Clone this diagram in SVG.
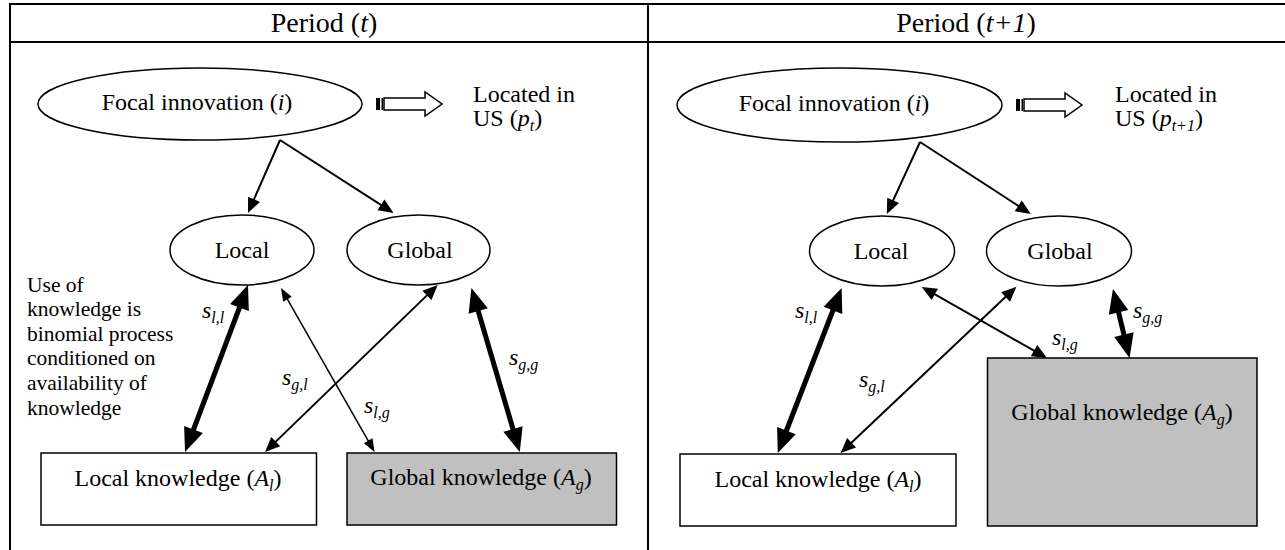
<svg xmlns="http://www.w3.org/2000/svg" width="1285" height="550" viewBox="0 0 1285 550">
<style>
text{font-family:"Liberation Serif","Times New Roman",serif;fill:#000}
.hd{font-size:28px;text-anchor:middle}
.lb{font-size:24px}
.mid{text-anchor:middle}
.note{font-size:21.5px}
.it{font-style:italic}
.grid{stroke:#000;stroke-width:2;fill:none}
.node{stroke:#000;stroke-width:1.5;fill:#fff}
.gray{fill:#c0c0c0}
.thick{stroke:#000;stroke-width:5;fill:none;marker-start:url(#hT);marker-end:url(#hT)}
.med{stroke:#000;stroke-width:2;fill:none}
.thin{stroke:#000;stroke-width:1.5;fill:none;marker-start:url(#hS);marker-end:url(#hS)}
.dbl{marker-start:url(#hM);marker-end:url(#hM)}
.one{marker-end:url(#hM)}
</style>
<defs>
<marker id="hT" markerUnits="userSpaceOnUse" markerWidth="26" markerHeight="22" viewBox="0 -11 24 22" refX="17" refY="0" orient="auto-start-reverse"><path d="M0,-10 L24,0 L0,10 z" fill="#000"/></marker>
<marker id="hM" markerUnits="userSpaceOnUse" markerWidth="16" markerHeight="14" viewBox="0 -7 15 14" refX="11.5" refY="0" orient="auto-start-reverse"><path d="M0,-6.5 L15,0 L0,6.5 z" fill="#000"/></marker>
<marker id="hS" markerUnits="userSpaceOnUse" markerWidth="14" markerHeight="12" viewBox="0 -6 13 12" refX="10" refY="0" orient="auto-start-reverse"><path d="M0,-5 L13,0 L0,5 z" fill="#000"/></marker>
<g id="hollowArrow">
<rect x="0" y="0" width="4" height="12" fill="#000"/>
<rect x="5.5" y="0" width="1.5" height="12" fill="#000"/>
<path d="M8,0 L49,0 L49,-6 L66,6 L49,18 L49,12 L8,12 z" fill="#fff" stroke="#000" stroke-width="1.5" stroke-linejoin="miter"/>
</g>
</defs>

<g id="table">
<line class="grid" x1="9" y1="4" x2="1285" y2="4"/>
<line class="grid" x1="9" y1="42" x2="1285" y2="42"/>
<line class="grid" x1="10" y1="3" x2="10" y2="550"/>
<line class="grid" x1="648" y1="3" x2="648" y2="550"/>
<text class="hd" x="324" y="32">Period (<tspan class="it">t</tspan>)</text>
<text class="hd" x="966" y="32">Period (<tspan class="it">t+1</tspan>)</text>
</g>

<!-- Left panel -->
<g id="focal-t">
<ellipse class="node" cx="200" cy="104" rx="162" ry="36"/>
<text class="lb mid" x="197" y="110">Focal innovation (<tspan class="it">i</tspan>)</text>
</g>
<g id="move-t">
<use href="#hollowArrow" x="376" y="98"/>
</g>
<g id="located-t">
<text class="lb" x="473" y="102">Located in</text>
<text class="lb" x="473" y="126">US (<tspan class="it">p</tspan><tspan class="it" font-size="16" dy="5">t</tspan><tspan dy="-5">)</tspan></text>
</g>
<g id="local-t">
<ellipse class="node" cx="242" cy="250" rx="72" ry="35"/>
<text class="lb mid" x="242" y="258">Local</text>
</g>
<g id="global-t">
<ellipse class="node" cx="418.5" cy="250" rx="71.5" ry="35"/>
<text class="lb mid" x="420" y="258">Global</text>
</g>
<g id="note-t">
<text class="note" x="27" y="292">Use of</text>
<text class="note" x="27" y="316">knowledge is</text>
<text class="note" x="27" y="341">binomial process</text>
<text class="note" x="27" y="365">conditioned on</text>
<text class="note" x="27" y="390">availability of</text>
<text class="note" x="27" y="415">knowledge</text>
</g>
<g id="localK-t">
<rect class="node" x="41" y="453" width="275.5" height="72"/>
<text class="lb mid" x="178" y="486">Local knowledge (<tspan class="it">A</tspan><tspan class="it" font-size="16" dy="5">l</tspan><tspan dy="-5">)</tspan></text>
</g>
<g id="globalK-t">
<rect class="node gray" x="347" y="453" width="269.5" height="72"/>
<text class="lb mid" x="481" y="485">Global knowledge (<tspan class="it">A</tspan><tspan class="it" font-size="16" dy="5">g</tspan><tspan dy="-5">)</tspan></text>
</g>

<!-- Right panel -->
<g id="focal-t1">
<ellipse class="node" cx="839.5" cy="105" rx="162.5" ry="37"/>
<text class="lb mid" x="834" y="111">Focal innovation (<tspan class="it">i</tspan>)</text>
</g>
<g id="move-t1">
<use href="#hollowArrow" x="1016" y="99"/>
</g>
<g id="located-t1">
<text class="lb" x="1115" y="102">Located in</text>
<text class="lb" x="1115" y="126">US (<tspan class="it">p</tspan><tspan class="it" font-size="16" dy="5">t+1</tspan><tspan dy="-5">)</tspan></text>
</g>
<g id="local-t1">
<ellipse class="node" cx="882" cy="251" rx="72.5" ry="35"/>
<text class="lb mid" x="881" y="259">Local</text>
</g>
<g id="global-t1">
<ellipse class="node" cx="1059" cy="251" rx="72.5" ry="35"/>
<text class="lb mid" x="1060" y="259">Global</text>
</g>
<g id="localK-t1">
<rect class="node" x="680" y="454" width="276" height="72"/>
<text class="lb mid" x="818" y="487">Local knowledge (<tspan class="it">A</tspan><tspan class="it" font-size="16" dy="5">l</tspan><tspan dy="-5">)</tspan></text>
</g>
<g id="globalK-t1">
<rect class="node gray" x="987.5" y="358" width="269.5" height="168"/>
<text class="lb mid" x="1122" y="420">Global knowledge (<tspan class="it">A</tspan><tspan class="it" font-size="16" dy="5">g</tspan><tspan dy="-5">)</tspan></text>
</g>

<g id="connectors">
<!-- left -->
<line class="med one" x1="280" y1="140" x2="249.4" y2="209.8"/>
<line class="med one" x1="280" y1="140" x2="390.6" y2="211.1"/>
<line class="thick" x1="245.5" y1="291.6" x2="187.5" y2="445.5"/>
<line class="med dbl" x1="435.2" y1="287.4" x2="267.5" y2="449.6"/>
<line class="thin" x1="282.5" y1="290.6" x2="373.1" y2="449.4"/>
<line class="thick" x1="473.4" y1="294.7" x2="517.8" y2="445.3"/>
<!-- right -->
<line class="med one" x1="920" y1="142" x2="888.3" y2="210.8"/>
<line class="med one" x1="920" y1="142" x2="1027.9" y2="212.1"/>
<line class="thick" x1="839.1" y1="294.5" x2="780.3" y2="446.5"/>
<line class="med dbl" x1="1013.9" y1="289.1" x2="843.2" y2="450.6"/>
<line class="med dbl" x1="924.8" y1="288.7" x2="1044" y2="356.3"/>
<line class="thick" x1="1114.6" y1="295.8" x2="1127.9" y2="351.2"/>
</g>

<g id="labels">
<text class="lb it" x="202" y="318">s<tspan font-size="16" dy="5">l,l</tspan></text>
<text class="lb it" x="282" y="385">s<tspan font-size="16" dy="5">g,l</tspan></text>
<text class="lb it" x="364" y="413">s<tspan font-size="16" dy="5">l,g</tspan></text>
<text class="lb it" x="509" y="365">s<tspan font-size="16" dy="5">g,g</tspan></text>
<text class="lb it" x="795" y="318">s<tspan font-size="16" dy="5">l,l</tspan></text>
<text class="lb it" x="859" y="387">s<tspan font-size="16" dy="5">g,l</tspan></text>
<text class="lb it" x="1052" y="345">s<tspan font-size="16" dy="5">l,g</tspan></text>
<text class="lb it" x="1133" y="318">s<tspan font-size="16" dy="5">g,g</tspan></text>
</g>
</svg>
